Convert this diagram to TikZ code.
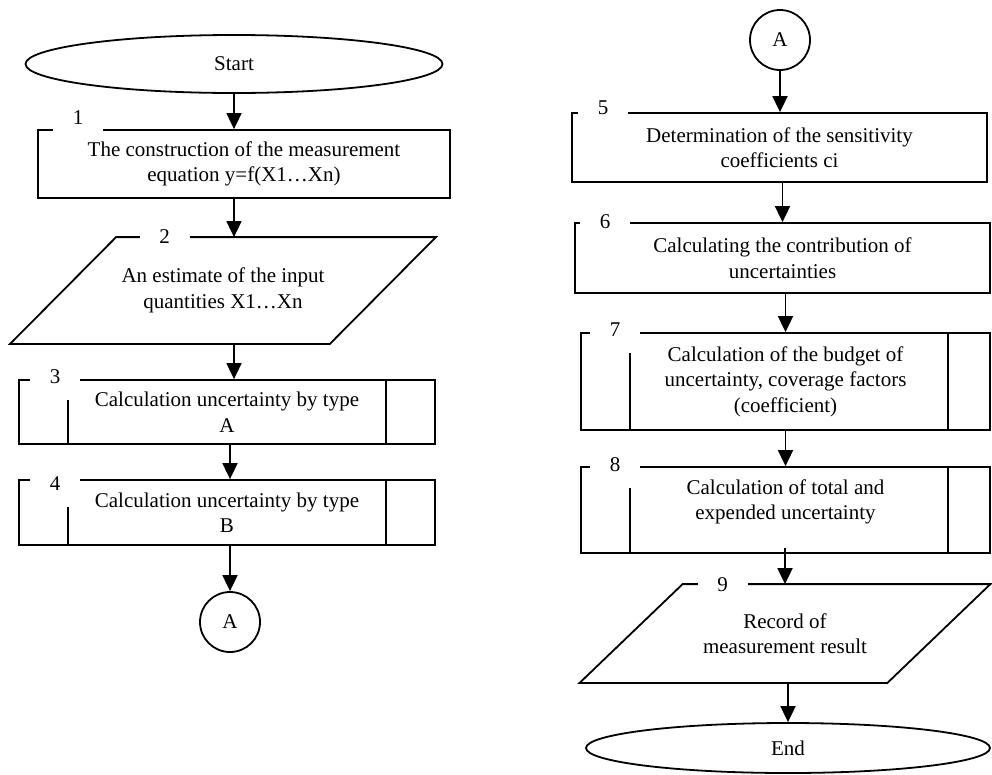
\documentclass[tikz,border=0pt]{standalone}
\usepackage{fontspec}
\setmainfont{Liberation Serif}
\usetikzlibrary{arrows.meta, calc, positioning, shapes.geometric}

\begin{document}
\begin{tikzpicture}[x=1pt, y=-1pt, line width=1.8pt,
		font=\fontsize{21}{25.5}\selectfont,
		term/.style = {draw, ellipse, inner sep=0pt},
		proc/.style = {draw, rectangle, align=center},
		io/.style = {rectangle, align=center, minimum width=318pt, minimum height=105pt},
		conn/.style = {draw, circle, minimum size=60pt, inner sep=0pt},
		num/.style = {fill=white, minimum width=50pt, minimum height=46pt, inner sep=0pt},
		arr/.style = {-{Triangle[length=16pt, width=15pt]}}]
		\useasboundingbox (0,0) rectangle (992,774);
		% left column
		\node[term, minimum width=417pt, minimum height=58pt] (start) at (234,64) {Start};
		\node[proc, minimum width=412pt, minimum height=68pt] (b1) at (244,164) {The construction of the measurement\\equation y=f(X1…Xn)};
		\node[io] (b2) at (223,290.5) {An estimate of the input\\quantities X1…Xn};
		\draw ($(b2.north west)+(53,0)$) -- ($(b2.north east)+(53,0)$) -- ($(b2.south east)-(53,0)$) -- ($(b2.south west)-(53,0)$) -- cycle;
		\node[proc, minimum width=416pt, minimum height=64pt] (b3) at (227,412) {Calculation uncertainty by type\\A};
		\node[proc, minimum width=416pt, minimum height=65pt] (b4) at (227,512.5) {Calculation uncertainty by type\\B};
		\node[conn] (aL) at (230,622) {A};
		% right column
		\node[conn] (aR) at (780,40) {A};
		\node[proc, minimum width=415pt, minimum height=69pt] (b5) at (779.5,147.5) {Determination of the sensitivity\\coefficients ci};
		\node[proc, minimum width=415pt, minimum height=70pt] (b6) at (782.5,258) {Calculating the contribution of\\uncertainties};
		\node[proc, minimum width=409pt, minimum height=97pt] (b7) at (785.5,381.5) {Calculation of the budget of\\uncertainty, coverage factors\\(coefficient)};
		\node[proc, minimum width=409pt, minimum height=86pt, text depth=21pt] (b8) at (785.5,510) {Calculation of total and\\expended uncertainty};
		\node[io, minimum width=306pt, minimum height=97pt] (b9) at (785,633.5) {Record of\\measurement result};
		\draw ($(b9.north west)+(51.5,0)$) -- ($(b9.north east)+(51.5,0)$) -- ($(b9.south east)-(51.5,0)$) -- ($(b9.south west)-(51.5,0)$) -- cycle;
		\node[term, minimum width=404pt, minimum height=50pt] (stop) at (788,748) {End};
		% subroutine sides
		\foreach \b/\l/\r in {b3/50/50, b4/50/50, b7/50/43, b8/50/43} {
			\draw ([xshift=\l pt]\b.north west) -- ([xshift=\l pt]\b.south west);
			\draw ([xshift=-\r pt]\b.north east) -- ([xshift=-\r pt]\b.south east);
		}
		% step numbers
		\node[num] (n1) at (78,118) {1};
		\node[num] (n2) at (164.5,237) {2};
		\node[num] (n3) at (55,377) {3};
		\node[num] (n4) at (55,484) {4};
		\node[num] (n5) at (603,108) {5};
		\node[num] (n6) at (605,222) {6};
		\node[num] (n7) at (615,330) {7};
		\node[num] (n8) at (615,465) {8};
		\node[num] (n9) at (722.5,585) {9};
		% arrows
		\draw[arr] (start.south) -- (start.south |- b1.north);
		\draw[arr] (b1.south -| start) -- (b2.north -| start);
		\draw[arr] (b2.south -| start) -- (b3.north -| start);
		\draw[arr] (b3.south -| aL) -- (b4.north -| aL);
		\draw[arr] (b4.south -| aL) -- (aL.north);
		\draw[arr] (aR.south) -- (aR |- b5.north);
		\draw[arr] (b5.south -| b6) -- (b6.north);
		\draw[arr] (b6.south -| b7) -- (b7.north);
		\draw[arr] (b7.south) -- (b8.north);
		\draw[arr] ([yshift=6pt]b8.south -| b9) -- (b9.north);
		\draw[arr] (b9.south -| stop) -- (stop.north);
	\end{tikzpicture}
\end{document}
